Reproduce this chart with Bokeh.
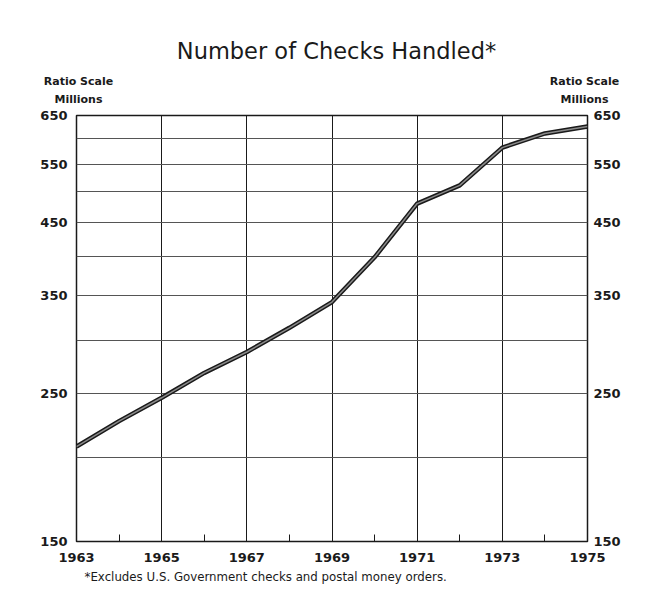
from bokeh.plotting import figure
from bokeh.layouts import column
from bokeh.models import FixedTicker, LogAxis, LinearAxis, Range1d, Title
from bokeh.core.properties import value
from bokeh.embed import file_html
from bokeh.resources import INLINE

# ---- data ----
years = [1963, 1964, 1965, 1966, 1967, 1968, 1969, 1970, 1971, 1972, 1973, 1974, 1975]
checks = [208, 227, 246, 268, 288, 313, 342, 399, 480, 511, 582, 611, 626]
y_tick_values = [150, 250, 350, 450, 550, 650]
y_grid_values = [200, 250, 300, 350, 400, 450, 500, 550, 600, 650]
x_tick_values = [1963, 1965, 1967, 1969, 1971, 1973, 1975]
x_minor_values = [1964, 1966, 1968, 1970, 1972, 1974]
x_grid_values = [1965, 1967, 1969, 1971, 1973]
title_text = "Number of Checks Handled*"
scale_text = ["Ratio Scale", "Millions"]
footnote_text = "*Excludes U.S. Government checks and postal money orders."

FONT = "DejaVu Sans"
INK = "#1a1a1a"
W = 639
FRAME_L, FRAME_R = 76, 587   # page pixel span of the plotting frame

# ---- header (title) ----
hdr = figure(width=W, height=70, x_range=Range1d(FRAME_L, FRAME_R),
             y_range=Range1d(70, 0), output_backend="svg", toolbar_location=None,
             x_axis_location=None, y_axis_location=None, min_border=0)
hdr.outline_line_color = None
hdr.xgrid.visible = False
hdr.ygrid.visible = False
hdr.background_fill_color = "white"
hdr.border_fill_color = "white"
hdr.text(x=[336], y=[50], text=[title_text], text_align="center",
         text_baseline="middle", text_font=value(FONT), text_font_size="22.5px",
         text_color=INK)

# ---- main chart ----
p = figure(width=W, height=528, y_axis_type="log",
           x_range=Range1d(1963, 1975), y_range=Range1d(150, 650),
           output_backend="svg", toolbar_location=None,
           min_border_left=FRAME_L, min_border_right=W - FRAME_R,
           min_border_top=45, min_border_bottom=57)
p.extra_x_ranges = {"px": Range1d(FRAME_L, FRAME_R)}
p.background_fill_color = "white"
p.border_fill_color = "white"
p.outline_line_color = INK
p.outline_line_width = 1.5

p.xgrid.ticker = FixedTicker(ticks=x_grid_values)
p.xgrid.grid_line_color = INK
p.xgrid.grid_line_width = 1
p.ygrid.ticker = FixedTicker(ticks=y_grid_values)
p.ygrid.grid_line_color = "#555555"
p.ygrid.grid_line_width = 1


def style_axis(ax, standoff, size="13px"):
    ax.axis_line_color = None
    ax.major_tick_line_color = None
    ax.minor_tick_line_color = None
    ax.major_label_standoff = standoff
    ax.major_label_text_font = FONT
    ax.major_label_text_font_size = size
    ax.major_label_text_font_style = "bold"
    ax.major_label_text_color = INK


xa = p.xaxis[0]
xa.ticker = FixedTicker(ticks=x_tick_values, minor_ticks=x_minor_values)
style_axis(xa, 5)
xa.minor_tick_line_color = INK
xa.minor_tick_in = 7
xa.minor_tick_out = 0

ya = p.yaxis[0]
ya.ticker = FixedTicker(ticks=y_tick_values)
style_axis(ya, 3)

ra = LogAxis(ticker=FixedTicker(ticks=y_tick_values))
style_axis(ra, 0)
p.add_layout(ra, "right")

# "Ratio Scale" / "Millions" notes above both value axes
note_pos = [78, 584]
note_text = "\n".join(scale_text)
ax_n = LinearAxis(x_range_name="px",
                  ticker=FixedTicker(ticks=note_pos),
                  major_label_overrides={k: note_text for k in note_pos})
style_axis(ax_n, 4, "11px")
ax_n.major_label_text_line_height = 1.35
p.add_layout(ax_n, "above")

p.line(years, checks, line_color=INK, line_width=4.5)
p.line(years, checks, line_color="#8a8a8a", line_width=1.5)

p.add_layout(Title(text=footnote_text, align="left", offset=8,
                   text_font=FONT, text_font_size="11.8px",
                   text_font_style="normal", text_color=INK, standoff=7), "below")

layout = column(hdr, p, spacing=0)
open("out.html", "w").write(file_html(layout, INLINE))
